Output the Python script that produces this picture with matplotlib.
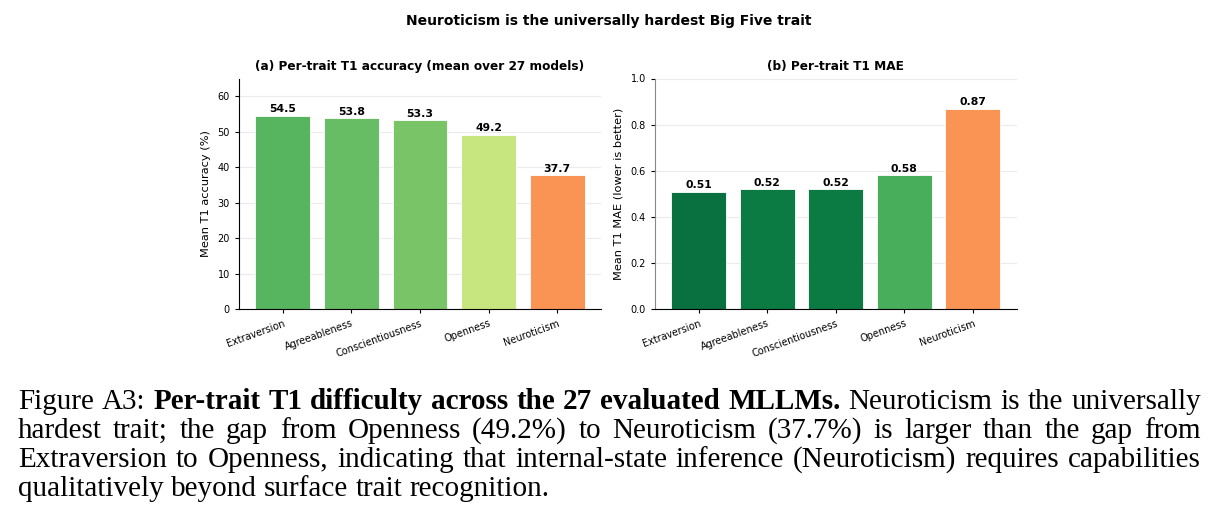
import matplotlib
matplotlib.use("Agg")
import matplotlib.pyplot as plt

traits = ["Extraversion", "Agreeableness", "Conscientiousness", "Openness", "Neuroticism"]
acc_values = [54.5, 53.8, 53.3, 49.2, 37.7]
mae_values = [0.51, 0.52, 0.52, 0.58, 0.87]
acc_colors = ["#57b55f", "#66bd63", "#78c467", "#c7e67f", "#f99455"]
mae_colors = ["#08713f", "#0c7b43", "#0c7b43", "#48ae5c", "#f99455"]

suptitle = "Neuroticism is the universally hardest Big Five trait"
title_a = "(a) Per-trait T1 accuracy (mean over 27 models)"
title_b = "(b) Per-trait T1 MAE"
ylabel_a = "Mean T1 accuracy (%)"
ylabel_b = "Mean T1 MAE (lower is better)"

W, H = 1220, 528
fig = plt.figure(figsize=(W / 100, H / 100), dpi=100)
fig.patch.set_facecolor("white")

fig.text(609 / W, 1 - 21 / H, suptitle, ha="center", va="center",
         fontsize=10, fontweight="bold")

ax_a = fig.add_axes([239 / W, 1 - 309.3 / H, 362 / W, 230.8 / H])
ax_b = fig.add_axes([655 / W, 1 - 309.3 / H, 361.7 / W, 230.8 / H])

def style(ax):
    ax.spines["top"].set_visible(False)
    ax.spines["right"].set_visible(False)
    ax.set_axisbelow(True)
    ax.yaxis.grid(True, color="#ebebeb", linewidth=0.8)
    ax.tick_params(axis="both", labelsize=7, length=3, width=0.8)
    for lab in ax.get_xticklabels():
        lab.set_rotation(20)
        lab.set_ha("right")
        lab.set_rotation_mode("anchor")

x = range(len(traits))
bars_a = ax_a.bar(x, acc_values, width=0.8, color=acc_colors,
                  edgecolor="white", linewidth=0.6)
ax_a.set_ylim(0, 65)
ax_a.set_xticks(list(x))
ax_a.set_xticklabels(traits)
ax_a.set_ylabel(ylabel_a, fontsize=8.2, labelpad=5)
ax_a.set_title(title_a, fontsize=8.7, fontweight="bold", pad=6)
for b, v in zip(bars_a, acc_values):
    ax_a.text(b.get_x() + b.get_width() / 2, v + 0.4, f"{v:.1f}",
              ha="center", va="bottom", fontsize=7.8, fontweight="bold")
style(ax_a)

bars_b = ax_b.bar(x, mae_values, width=0.8, color=mae_colors,
                  edgecolor="white", linewidth=0.6)
ax_b.set_ylim(0, 1.0)
ax_b.set_xticks(list(x))
ax_b.set_xticklabels(traits)
ax_b.set_ylabel(ylabel_b, fontsize=8.2, labelpad=5)
ax_b.set_title(title_b, fontsize=8.7, fontweight="bold", pad=6)
for b, v in zip(bars_b, mae_values):
    ax_b.text(b.get_x() + b.get_width() / 2, v + 0.007, f"{v:.2f}",
              ha="center", va="bottom", fontsize=7.8, fontweight="bold")
style(ax_b)
ax_b.spines["left"].set_color("#888888")

# ---- caption (justified) ----
caption_lines = [
    [("Figure A3:", "normal"),
     ("Per-trait T1 difficulty across the 27 evaluated MLLMs.", "bold"),
     ("Neuroticism is the universally", "normal")],
    [("hardest trait; the gap from Openness (49.2%) to Neuroticism (37.7%) is larger than the gap from", "normal")],
    [("Extraversion to Openness, indicating that internal-state inference (Neuroticism) requires capabilities", "normal")],
    [("qualitatively beyond surface trait recognition.", "normal")],
]
cap_font = "Liberation Serif"
left_px, right_px = 18, 1201
baselines = [409, 438, 467, 495.5]
renderer = fig.canvas.get_renderer()

def measure(s, size, wgt="normal"):
    t = fig.text(0, 0, s, fontsize=size, family=cap_font, fontweight=wgt)
    w = t.get_window_extent(renderer).width
    t.remove()
    return w

# choose size so the tightest justified line has natural spacing
base = 20.0
space_w = measure("a a", base) - measure("aa", base)
nat = []
for segs in caption_lines[:-1]:
    total = 0
    n = 0
    for s, wgt in segs:
        for w in s.split(" "):
            total += measure(w, base, wgt)
            n += 1
    total += (n - 1) * space_w
    nat.append(total)
cap_size = base * (right_px - left_px) / max(nat) * 0.995

space_w = measure("a a", cap_size) - measure("aa", cap_size)
for li, segs in enumerate(caption_lines):
    words = []
    for s, wgt in segs:
        for w in s.split(" "):
            words.append((w, wgt))
    objs, widths = [], []
    for w, wgt in words:
        t = fig.text(0, 1 - baselines[li] / H, w, fontsize=cap_size,
                     family=cap_font, fontweight=wgt, va="baseline", ha="left")
        objs.append(t)
        widths.append(t.get_window_extent(renderer).width)
    if li < len(caption_lines) - 1:
        gap = (right_px - left_px - sum(widths)) / (len(words) - 1)
    else:
        gap = space_w
    xpos = left_px
    for t, wd in zip(objs, widths):
        t.set_x(xpos / W)
        xpos += wd + gap

fig.savefig("out.png", dpi=100, facecolor="white")
